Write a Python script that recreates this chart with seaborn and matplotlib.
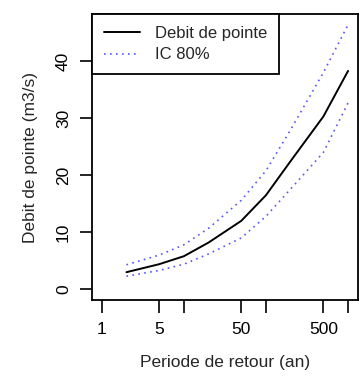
import matplotlib
matplotlib.use("Agg")
import matplotlib.pyplot as plt
import matplotlib.ticker as mticker
import numpy as np
import pandas as pd
import seaborn as sns

# =====================================================
# Data
# =====================================================

periode = [2, 5, 10, 20, 50, 100, 200, 500, 1000]
debit = [3.0, 4.4, 5.8, 8.2, 12.0, 16.5, 22.5, 30.3, 38.3]
ic_haut = [4.3, 6.0, 7.8, 10.7, 15.6, 20.8, 28.0, 38.0, 46.4]
ic_bas = [2.3, 3.3, 4.4, 6.2, 9.0, 12.8, 17.6, 24.0, 32.7]

x_ticks = [1, 5, 10, 50, 100, 500, 1000]
x_labels = ["1", "5", "", "50", "", "500", ""]
y_ticks = [0, 10, 20, 30, 40]

df = pd.DataFrame({
    "periode": periode,
    "debit": debit,
    "haut": ic_haut,
    "bas": ic_bas,
})

# =====================================================
# Figure
# =====================================================

sns.set_style("ticks")
plt.rcParams["font.family"] = ["Liberation Sans", "DejaVu Sans"]

fig = plt.figure(figsize=(3.59, 3.82), dpi=100)
ax = fig.add_axes([0.256, 0.215, 0.741, 0.748])

ic_style = dict(color="#5555ff", linewidth=1.2, dashes=(1, 2.6))

sns.lineplot(data=df, x="periode", y="debit", ax=ax,
             color="black", linewidth=1.4, label="Debit de pointe")
sns.lineplot(data=df, x="periode", y="haut", ax=ax,
             label="IC 80%", **ic_style)
sns.lineplot(data=df, x="periode", y="bas", ax=ax, **ic_style)

ax.set_xscale("log")
ax.set_xlim(10 ** -0.12, 10 ** 3.12)
ymax = max(ic_haut)
ax.set_ylim(-0.04 * ymax, 1.04 * ymax)

ax.xaxis.set_major_locator(mticker.FixedLocator(x_ticks))
ax.xaxis.set_major_formatter(mticker.FixedFormatter(x_labels))
ax.xaxis.set_minor_locator(mticker.NullLocator())
ax.set_yticks(y_ticks)
ax.set_yticklabels([str(v) for v in y_ticks], rotation=90, va="center")

ax.tick_params(axis="both", length=9, width=1.2, labelsize=12.5,
               color="black", labelcolor="black", direction="out")
ax.tick_params(axis="x", pad=7)
ax.tick_params(axis="y", pad=6)

for side in ["left", "right", "top", "bottom"]:
    ax.spines[side].set_visible(True)
    ax.spines[side].set_linewidth(1.3)
    ax.spines[side].set_color("black")

ax.set_xlabel("Periode de retour (an)", fontsize=12.5, labelpad=13)
ax.set_ylabel("Debit de pointe (m3/s)", fontsize=12.5, labelpad=13)

leg = ax.legend(loc="upper left", bbox_to_anchor=(0, 1), borderaxespad=0,
                fontsize=12, frameon=True, fancybox=False,
                handlelength=2.2, handletextpad=0.9, labelspacing=0.4,
                borderpad=0.7)
leg.get_frame().set_edgecolor("black")
leg.get_frame().set_linewidth(1.3)
leg.get_frame().set_alpha(1)

fig.savefig("out.png", dpi=100)
plt.close(fig)
